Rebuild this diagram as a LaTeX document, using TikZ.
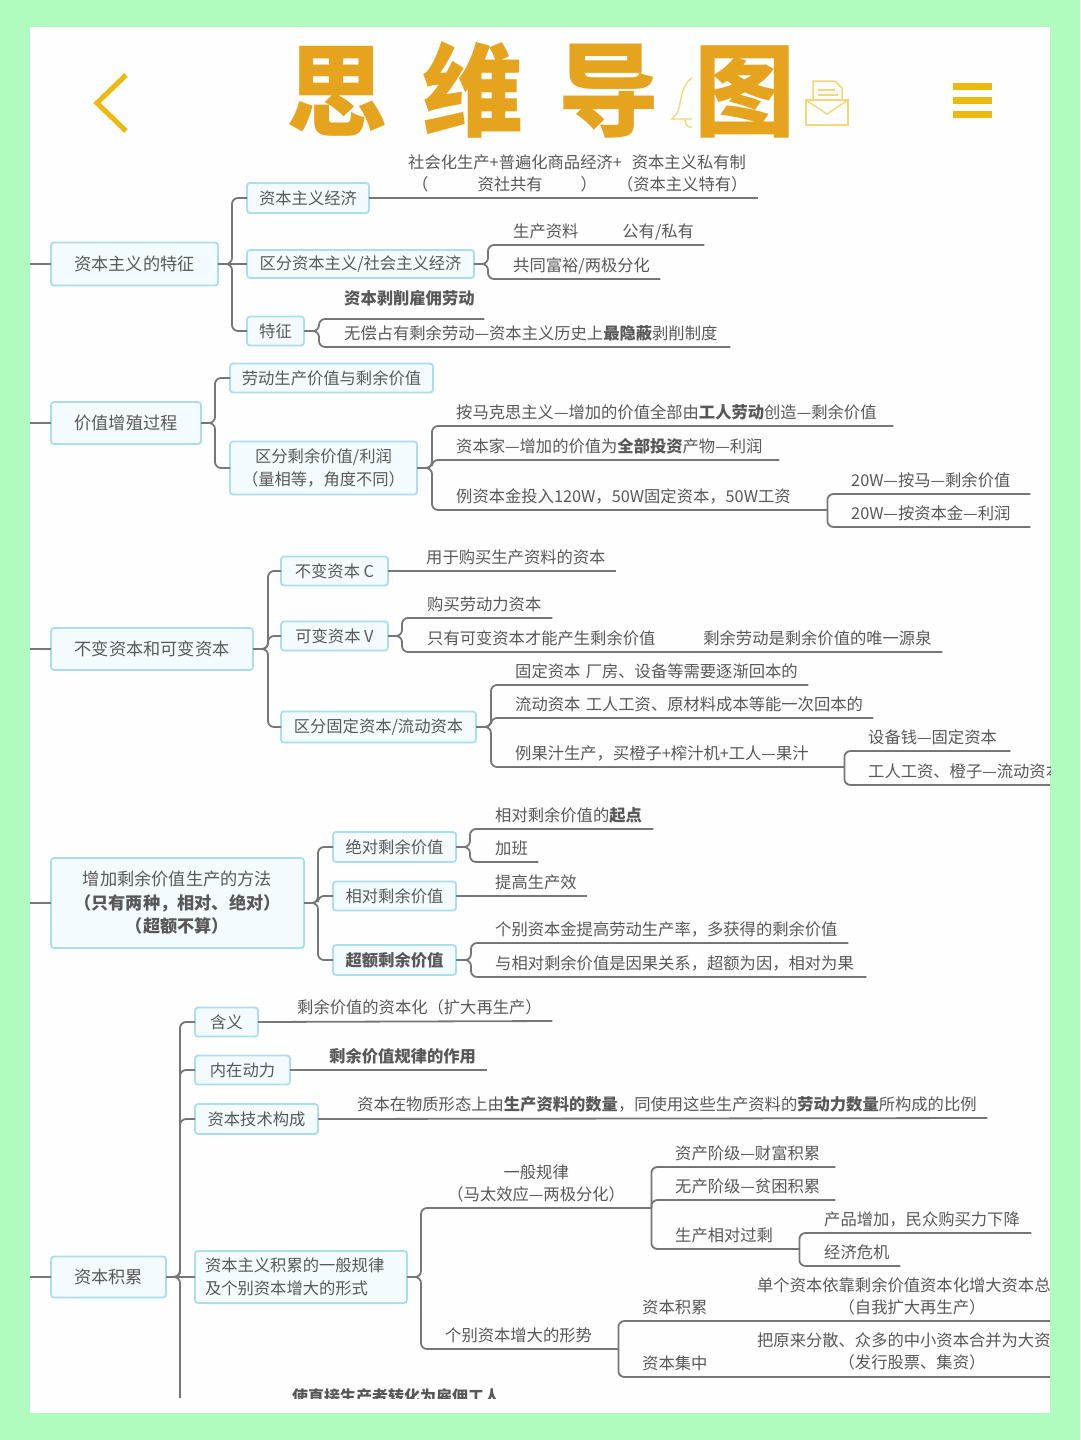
\documentclass[tikz,border=0pt]{standalone}
\usepackage{fontspec}
\setmainfont{Noto Sans CJK SC}
\usepackage{xcolor}
\usetikzlibrary{arrows.meta, positioning}
\definecolor{mintbg}{RGB}{176, 252, 190}
\definecolor{panelwhite}{RGB}{253, 254, 253}
\definecolor{titlegold}{RGB}{229, 163, 30}
\definecolor{icongold}{RGB}{237, 185, 15}
\definecolor{iconpale}{RGB}{244, 214, 120}
\definecolor{boxblue}{RGB}{170, 222, 238}
\definecolor{boxfill}{RGB}{244, 251, 254}
\definecolor{inkgray}{RGB}{88, 88, 88}
\definecolor{linegray}{RGB}{118, 118, 118}

\begin{document}
\begin{tikzpicture}[
        x=1pt, y=-1pt,
        box/.style={rectangle, rounded corners=3pt, draw=boxblue, fill=boxfill,
                    line width=1.8pt, anchor=west, inner sep=2pt, outer sep=0pt, align=center,
                    text=inkgray, font=\fontsize{16.3}{23}\selectfont},
        rootbox/.style={box, font=\fontsize{17.2}{23.5}\selectfont},
        leaf/.style={anchor=south west, inner xsep=0pt, inner ysep=4pt, align=left,
                    text depth=3pt, text=inkgray, font=\fontsize{16.3}{22}\selectfont},
        note/.style={inner sep=0pt, align=center, text=inkgray,
                    font=\fontsize{16.3}{22}\selectfont},
        link/.style={draw=linegray, line width=1.8pt, rounded corners=6pt}
      ]
        \useasboundingbox (0,0) rectangle (1080,1440);
        \fill[mintbg] (0,0) rectangle (1080,1440);
        \fill[panelwhite] (30,27) rectangle (1050,1413);

        % top bar
        \draw[icongold, line width=5pt] (126,75) -- (97,103) -- (126,131);
        \draw[iconpale, line width=1.3pt] (692,78) .. controls (682,84) and (681,100) .. (679,108)
              .. controls (678,114) and (674,116) .. (672,119) -- (692,119);
        \draw[iconpale, line width=1.3pt] (685,119) .. controls (685,127) and (690,128) .. (692,127);
        \draw[iconpale, line width=1.5pt] (806,100) rectangle (848,125);
        \draw[iconpale, line width=1.5pt] (806,100) -- (827,114) -- (848,100);
        \draw[iconpale, line width=1.5pt] (813,100) -- (813,81) -- (835,81) -- (842,88) -- (842,100);
        \draw[iconpale, line width=1.5pt] (818,90) -- (835,90) (818,95) -- (838,95);
        \fill[icongold] (953,83) rectangle (992,90);
        \fill[icongold] (953,97) rectangle (992,104);
        \fill[icongold] (953,111) rectangle (992,118);
        \node[inner sep=0pt, text=titlegold, font=\fontsize{101}{101}\selectfont\bfseries] (title) at (541,90)
              {思\hspace{35pt}维\hspace{35pt}导\hspace{35pt}图};

        \begin{scope}
        \clip (30,27) rectangle (1050,1398);

        % capitalism features
        \coordinate (edge1) at (30,264);
        \node[rootbox, minimum width=167pt, minimum height=43pt] (feat) at (51,264) {资本主义的特征};
        \node[box, minimum width=122pt, minimum height=30pt] (econ) at (247,198) {资本主义经济};
        \node[box, minimum width=227pt, minimum height=28pt] (split) at (247,264) {区分资本主义/社会主义经济};
        \node[box, minimum width=57pt, minimum height=29pt] (trait) at (247,331) {特征};
        \node[leaf, text width=350pt, text depth=25pt] (econtxt) at (408,198)
              {社会化生产+普遍化商品经济+\hspace{10pt}资本主义私有制\\
               \hspace*{4pt}（\hspace{49pt}资社共有\hspace{38pt}）\hspace{20pt}（资本主义特有）};
        \node[leaf, text width=191pt] (owner) at (513,245) {生产资料\hspace{44pt}公有/私有};
        \node[leaf, text width=147pt] (polar) at (513,279) {共同富裕/两极分化};
        \node[leaf, text width=140pt, inner ysep=11pt] (labor) at (344,319) {\textbf{资本剥削雇佣劳动}};
        \node[leaf, text width=386pt] (hidden) at (344,347) {无偿占有剩余劳动—资本主义历史上\textbf{最隐蔽}剥削制度};
        \draw[link] (edge1) -- (feat.west);
        \draw[link] (feat.east) -- ++(14,0) |- (econ.west);
        \draw[link] (feat.east) -- (split.west);
        \draw[link] (feat.east) -- ++(14,0) |- (trait.west);
        \draw[link] (econ.east) -- (econtxt.south east);
        \draw[link] (split.east) -- ++(14,0) |- (owner.south east);
        \draw[link] (split.east) -- ++(14,0) |- (polar.south east);
        \draw[link] (trait.east) -- ++(15,0) |- (labor.south east);
        \draw[link] (trait.east) -- ++(15,0) |- (hidden.south east);

        % value growth
        \coordinate (edge2) at (30,423);
        \node[rootbox, minimum width=150pt, minimum height=42pt] (grow) at (51,423) {价值增殖过程};
        \node[box, minimum width=203pt, minimum height=29pt] (work) at (230,378) {劳动生产价值与剩余价值};
        \node[box, minimum width=187pt, minimum height=53pt] (profit) at (230,468) {区分剩余价值/利润\\（量相等，角度不同）};
        \node[leaf, text width=437pt] (marx) at (456,426) {按马克思主义—增加的价值全部由\textbf{工人劳动}创造—剩余价值};
        \node[leaf, text width=323pt] (owner2) at (456,460) {资本家—增加的价值为\textbf{全部投资}产物—利润};
        \node[leaf, text width=371pt] (case) at (456,510) {例资本金投入120W，50W固定资本，50W工资};
        \node[leaf, text width=179pt] (casea) at (851,494) {20W—按马—剩余价值};
        \node[leaf, text width=179pt] (caseb) at (851,527) {20W—按资本金—利润};
        \draw[link] (edge2) -- (grow.west);
        \draw[link] (grow.east) -- ++(14,0) |- (work.west);
        \draw[link] (grow.east) -- ++(14,0) |- (profit.west);
        \draw[link] (profit.east) -- ++(15,0) |- (marx.south east);
        \draw[link] (profit.east) -- ++(15,0) |- (owner2.south east);
        \draw[link] (profit.east) -- ++(15,0) |- (case.south east);
        \draw[link] (case.south east) |- (casea.south east);
        \draw[link] (case.south east) |- (caseb.south east);

        % constant and variable capital
        \coordinate (edge3) at (30,649);
        \node[rootbox, minimum width=202pt, minimum height=42pt] (capital) at (51,649) {不变资本和可变资本};
        \node[box, minimum width=107pt, minimum height=29pt] (const) at (281,571) {不变资本 C};
        \node[box, minimum width=107pt, minimum height=29pt] (vary) at (281,636) {可变资本 V};
        \node[box, minimum width=195pt, minimum height=31pt] (fixed) at (281,727) {区分固定资本/流动资本};
        \node[leaf, text width=190pt] (constl) at (426,571) {用于购买生产资料的资本};
        \node[leaf, text width=125pt] (varya) at (427,618) {购买劳动力资本};
        \node[leaf, text width=515pt] (varyb) at (427,652) {只有可变资本才能产生剩余价值\hspace{48pt}剩余劳动是剩余价值的唯一源泉};
        \node[leaf, text width=293pt] (fixeda) at (515,685) {固定资本 厂房、设备等需要逐渐回本的};
        \node[leaf, text width=358pt] (fixedb) at (515,718) {流动资本 工人工资、原材料成本等能一次回本的};
        \node[leaf, text width=329pt] (juice) at (515,767) {例果汁生产，买橙子+榨汁机+工人—果汁};
        \node[leaf, text width=142pt] (juicea) at (868,751) {设备钱—固定资本};
        \node[leaf, text width=210pt] (juiceb) at (868,785) {工人工资、橙子—流动资本};
        \draw[link] (edge3) -- (capital.west);
        \draw[link] (capital.east) -- ++(15,0) |- (const.west);
        \draw[link] (capital.east) -- ++(15,0) |- (vary.west);
        \draw[link] (capital.east) -- ++(15,0) |- (fixed.west);
        \draw[link] (const.east) -- (constl.south east);
        \draw[link] (vary.east) -- ++(14,0) |- (varya.south east);
        \draw[link] (vary.east) -- ++(14,0) |- (varyb.south east);
        \draw[link] (fixed.east) -- ++(15,0) |- (fixeda.south east);
        \draw[link] (fixed.east) -- ++(15,0) |- (fixedb.south east);
        \draw[link] (fixed.east) -- ++(15,0) |- (juice.south east);
        \draw[link] (juice.south east) |- (juicea.south east);
        \draw[link] (juice.south east) |- (juiceb.south east);

        % surplus value methods
        \coordinate (edge4) at (30,903);
        \node[rootbox, minimum width=253pt, minimum height=90pt] (method) at (51,903)
              {增加剩余价值生产的方法\\\textbf{（只有两种，相对、绝对）}\\\textbf{（超额不算）}};
        \node[box, minimum width=123pt, minimum height=30pt] (abs) at (333,847) {绝对剩余价值};
        \node[box, minimum width=123pt, minimum height=29pt] (rel) at (333,896) {相对剩余价值};
        \node[box, minimum width=123pt, minimum height=30pt] (extra) at (333,960) {\textbf{超额剩余价值}};
        \node[leaf, text width=158pt] (absa) at (495,829) {相对剩余价值的\textbf{起点}};
        \node[leaf, text width=43pt] (absb) at (495,862) {加班};
        \node[leaf, text width=92pt] (rell) at (495,896) {提高生产效};
        \node[leaf, text width=353pt] (extraa) at (495,943) {个别资本金提高劳动生产率，多获得的剩余价值};
        \node[leaf, text width=371pt] (extrab) at (495,977) {与相对剩余价值是因果关系，超额为因，相对为果};
        \draw[link] (edge4) -- (method.west);
        \draw[link] (method.east) -- ++(14,0) |- (abs.west);
        \draw[link] (method.east) -- ++(14,0) |- (rel.west);
        \draw[link] (method.east) -- ++(14,0) |- (extra.west);
        \draw[link] (abs.east) -- ++(14,0) |- (absa.south east);
        \draw[link] (abs.east) -- ++(14,0) |- (absb.south east);
        \draw[link] (rel.east) -- (rell.south east);
        \draw[link] (extra.east) -- ++(15,0) |- (extraa.south east);
        \draw[link] (extra.east) -- ++(15,0) |- (extrab.south east);

        % accumulation
        \coordinate (edge5) at (30,1277);
        \coordinate (cutoff) at (180,1398);
        \node[rootbox, minimum width=115pt, minimum height=41pt] (accum) at (51,1277) {资本积累};
        \node[box, minimum width=63pt, minimum height=29pt] (mean) at (195,1022) {含义};
        \node[box, minimum width=95pt, minimum height=29pt] (drive) at (195,1070) {内在动力};
        \node[box, minimum width=123pt, minimum height=30pt] (tech) at (195,1119) {资本技术构成};
        \node[box, minimum width=212pt, minimum height=52pt, text width=192pt, inner xsep=10pt, align=left] (law) at (195,1277)
              {资本主义积累的一般规律\\及个别资本增大的形式};
        \node[leaf, text width=255pt] (meanl) at (297,1021) {剩余价值的资本化（扩大再生产）};
        \node[leaf, text width=158pt] (drivel) at (329,1070) {\textbf{剩余价值规律的作用}};
        \node[leaf, text width=630pt] (techl) at (357,1118) {资本在物质形态上由\textbf{生产资料的数量}，同使用这些生产资料的\textbf{劳动力数量}所构成的比例};
        \node[leaf, text width=230pt, text depth=25pt, align=center] (rule) at (421,1208) {一般规律\\（马太效应—两极分化）};
        \node[leaf, text width=160pt] (richer) at (675,1167) {资产阶级—财富积累};
        \node[leaf, text width=160pt] (poorer) at (675,1200) {无产阶级—贫困积累};
        \node[leaf, text width=124pt] (excess) at (675,1249) {生产相对过剩};
        \node[leaf, text width=207pt] (excessa) at (824,1233) {产品增加，民众购买力下降};
        \node[leaf, text width=76pt] (excessb) at (824,1266) {经济危机};
        \node[leaf, text width=173pt] (form) at (445,1349) {个别资本增大的形势};
        \node[leaf, text width=408pt] (forma) at (642,1321) {资本积累};
        \node[leaf, text width=408pt] (formb) at (642,1377) {资本集中};
        \node[note] (formanote) at (912,1296) {单个资本依靠剩余价值资本化增大资本总额\\（自我扩大再生产）};
        \node[note] (formbnote) at (912,1351) {把原来分散、众多的中小资本合并为大资本\\（发行股票、集资）};
        \node[leaf, text width=220pt, font=\fontsize{16}{22}\selectfont\bfseries, inner ysep=0pt, text depth=0pt] (direct) at (292,1403) {使直接生产者转化为雇佣工人};
        \draw[link] (edge5) -- (accum.west);
        \draw[link] (accum.east) -- (law.west);
        \draw[link] (accum.east) -- ++(14,0) |- (mean.west);
        \draw[link] (accum.east) -- ++(14,0) |- (drive.west);
        \draw[link] (accum.east) -- ++(14,0) |- (tech.west);
        \draw[link] (accum.east) -- ++(14,0) -- (cutoff);
        \draw[link] (mean.east) -- (meanl.south east);
        \draw[link] (drive.east) -- (drivel.south east);
        \draw[link] (tech.east) -- (techl.south east);
        \draw[link] (law.east) -- ++(14,0) |- (rule.south east);
        \draw[link] (law.east) -- ++(14,0) |- (form.south east);
        \draw[link] (rule.south east) |- (richer.south east);
        \draw[link] (rule.south east) |- (poorer.south east);
        \draw[link] (rule.south east) |- (excess.south east);
        \draw[link] (excess.south east) |- (excessa.south east);
        \draw[link] (excess.south east) |- (excessb.south east);
        \draw[link] (form.south east) |- (forma.south east);
        \draw[link] (form.south east) |- (formb.south east);
        \end{scope}
      \end{tikzpicture}
\end{document}
